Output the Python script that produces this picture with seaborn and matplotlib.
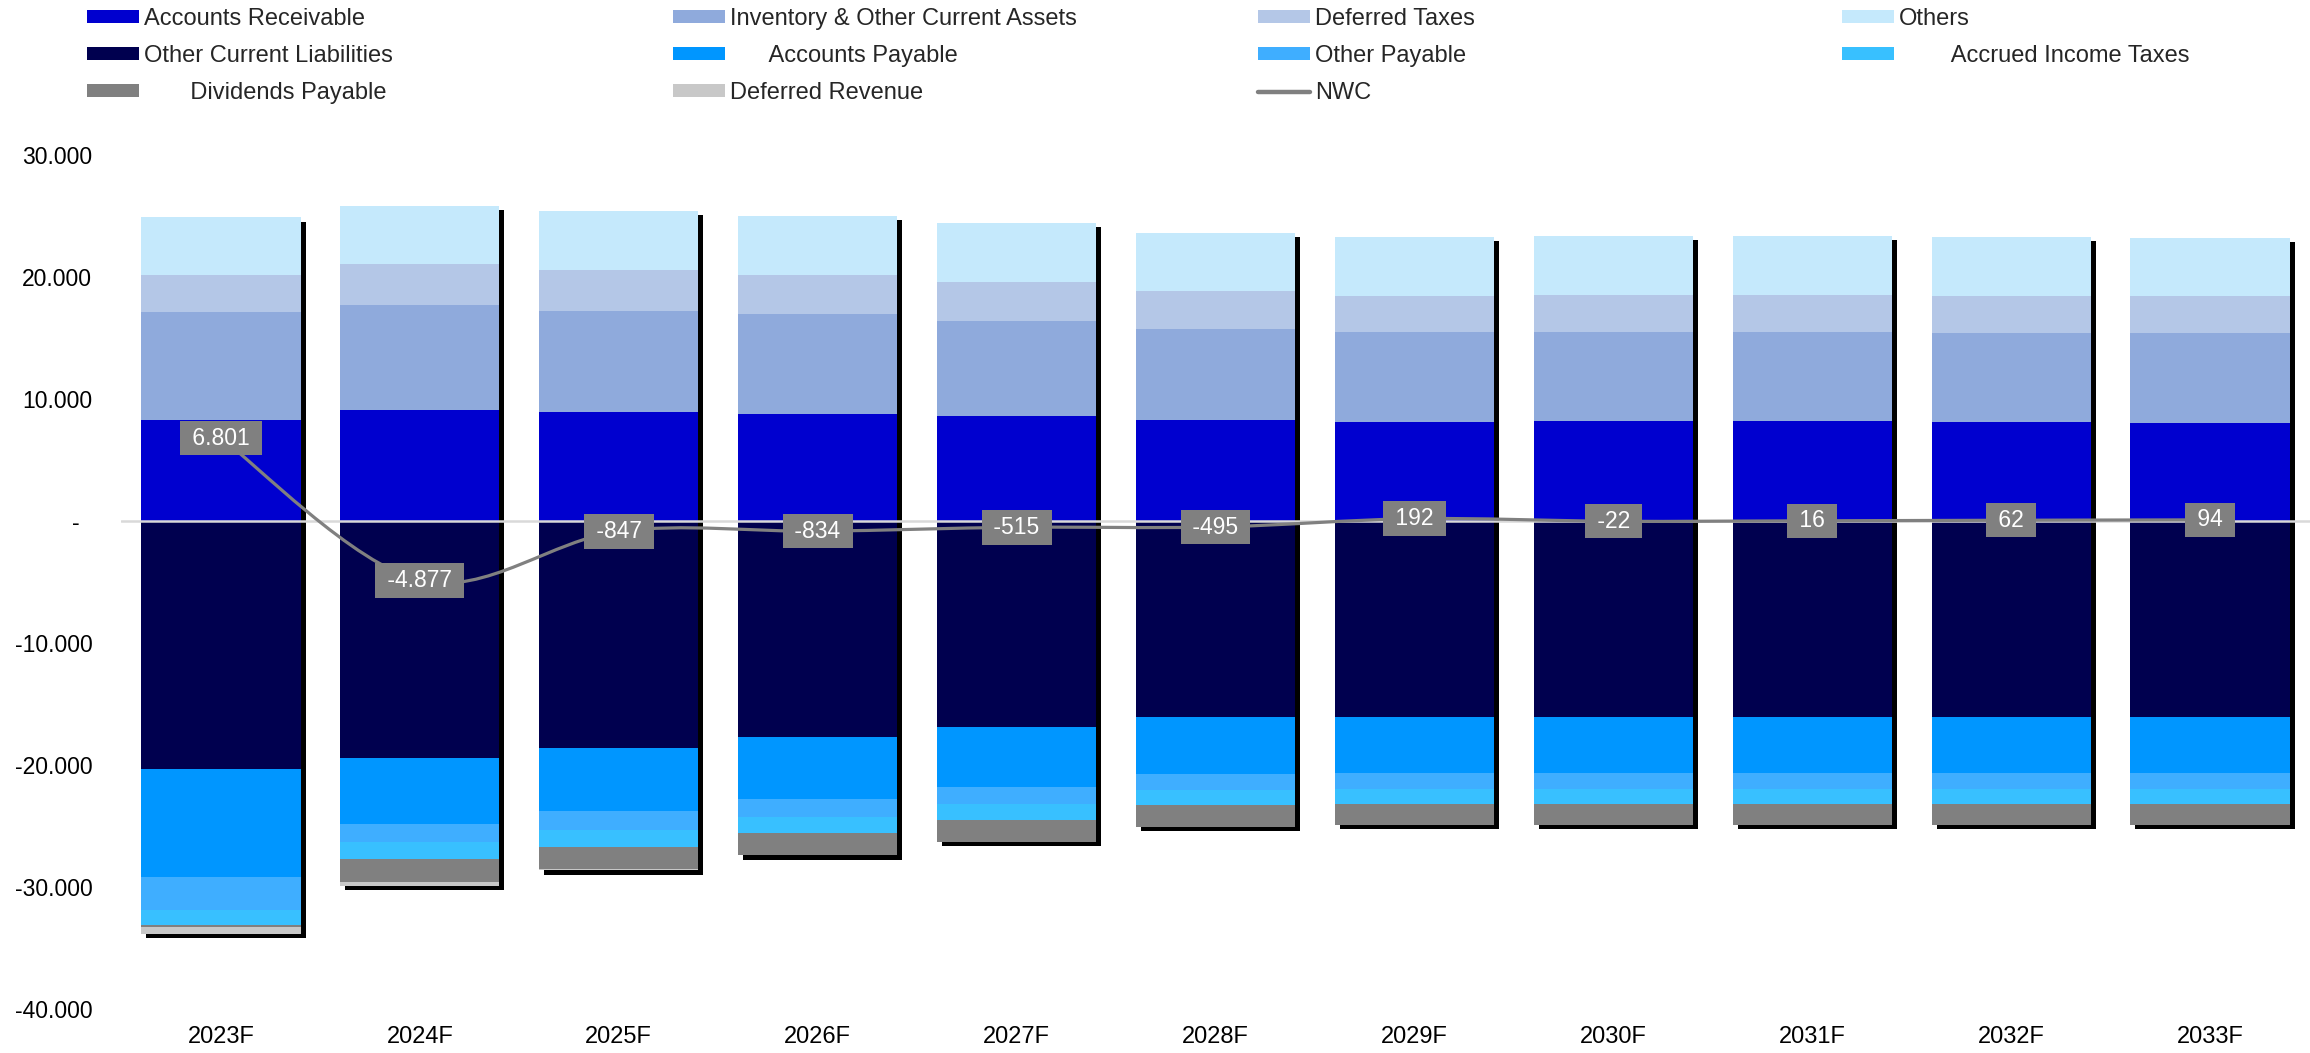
import numpy as np
import matplotlib
matplotlib.use("Agg")
import matplotlib.pyplot as plt
import matplotlib.patheffects as pe
from matplotlib.path import Path
from matplotlib.patches import PathPatch, Patch
from matplotlib.lines import Line2D
from matplotlib.ticker import FuncFormatter
import seaborn as sns

# ---- data -------------------------------------------------------------
years = ["2023F", "2024F", "2025F", "2026F", "2027F", "2028F",
         "2029F", "2030F", "2031F", "2032F", "2033F"]

accounts_receivable = [8260, 9070, 8920, 8800, 8570, 8310, 8120, 8160, 8160, 8090, 8050]
inventory_other = [8850, 8620, 8310, 8130, 7800, 7450, 7350, 7340, 7340, 7340, 7340]
deferred_taxes = [3040, 3340, 3320, 3270, 3200, 3090, 3010, 3050, 3050, 3010, 3020]
others = [4740, 4780, 4850, 4780, 4850, 4740, 4820, 4820, 4820, 4860, 4810]

other_current_liabilities = [-20290, -19430, -18600, -17730, -16900, -16070,
                             -16070, -16070, -16070, -16070, -16070]
accounts_payable = [-8900, -5370, -5200, -5080, -4900, -4670, -4590, -4590, -4590, -4590, -4590]
other_payable = [-2680, -1510, -1510, -1470, -1390, -1320, -1320, -1320, -1320, -1320, -1320]
accrued_income_taxes = [-1260, -1390, -1380, -1280, -1310, -1240, -1210, -1210, -1210, -1210, -1210]
dividends_payable = [-140, -1880, -1800, -1800, -1810, -1750, -1730, -1730, -1730, -1730, -1730]
deferred_revenue = [-560, -310, -150, -50, 0, 0, 0, 0, 0, 0, 0]

nwc = [6801, -4877, -847, -834, -515, -495, 192, -22, 16, 62, 94]

# ---- styling ----------------------------------------------------------
C_AR = "#0000CF"
C_INV = "#8FAADC"
C_DT = "#B4C7E7"
C_OTH = "#C5E9FC"
C_OCL = "#00004F"
C_AP = "#0096FF"
C_OP = "#3FAEFF"
C_AIT = "#38C0FF"
C_DIV = "#808080"
C_DR = "#C8C8C8"
C_NWC = "#808080"

sns.set_theme(style="white")
plt.rcParams["font.family"] = ["Liberation Sans", "DejaVu Sans"]

W, H = 2310, 1053
fig = plt.figure(figsize=(W / 100, H / 100), dpi=100)
ax = fig.add_axes([121.5 / W, 44 / H, 2188 / W, 854 / H])

shadow = [pe.SimplePatchShadow(offset=(3.6, -3.0), shadow_rgbFace="black", alpha=1.0),
          pe.Normal()]


def bases_for(series):
    base = np.zeros(len(years))
    out = []
    for vals in series:
        out.append(base.copy())
        base = base + np.asarray(vals, dtype=float)
    return out


def draw_stack(series, colors, order):
    bases = bases_for(series)
    for i in order:
        n0 = len(ax.patches)
        sns.barplot(x=years, y=series[i], bottom=bases[i], color=colors[i],
                    width=0.8, saturation=1, linewidth=0, ax=ax, errorbar=None)
        for p in ax.patches[n0:]:
            p.set_path_effects(shadow)
            p.set_zorder(2)


pos_series = [accounts_receivable, inventory_other, deferred_taxes, others]
pos_colors = [C_AR, C_INV, C_DT, C_OTH]
neg_series = [other_current_liabilities, accounts_payable, other_payable,
              accrued_income_taxes, dividends_payable, deferred_revenue]
neg_colors = [C_OCL, C_AP, C_OP, C_AIT, C_DIV, C_DR]

# upper segments first so each lower one covers the shadow above it
draw_stack(pos_series, pos_colors, order=[3, 2, 1, 0])
draw_stack(neg_series, neg_colors, order=[0, 1, 2, 3, 4, 5])

ax.axhline(0, color="#D9D9D9", lw=1.8, zorder=4)

# smoothed NWC line (cubic Bezier through every yearly value)
xs = np.arange(len(years), dtype=float)
ys = np.asarray(nwc, dtype=float)
verts = [(xs[0], ys[0])]
codes = [Path.MOVETO]
n = len(xs)
for i in range(n - 1):
    p0 = np.array([xs[max(i - 1, 0)], ys[max(i - 1, 0)]])
    p1 = np.array([xs[i], ys[i]])
    p2 = np.array([xs[i + 1], ys[i + 1]])
    p3 = np.array([xs[min(i + 2, n - 1)], ys[min(i + 2, n - 1)]])
    c1 = p1 + (p2 - p0) / 6.0
    c2 = p2 - (p3 - p1) / 6.0
    verts += [tuple(c1), tuple(c2), tuple(p2)]
    codes += [Path.CURVE4] * 3
ax.add_patch(PathPatch(Path(verts, codes), facecolor="none", edgecolor=C_NWC,
                       lw=2.3, zorder=6, capstyle="round", joinstyle="round"))


def fmt(v):
    return f"{v:,.0f}".replace(",", ".")


for i, v in enumerate(nwc):
    ax.text(i, v, f" {fmt(v)} ", ha="center", va="center", color="white",
            fontsize=16.5, zorder=8,
            bbox=dict(boxstyle="square,pad=0.25", fc="#808080", ec="none"))

ax.set_xlim(-0.5, len(years) - 0.5)
ax.set_ylim(-40000, 30000)
ax.set_yticks(np.arange(-40000, 30001, 10000))
ax.yaxis.set_major_formatter(FuncFormatter(lambda v, _: "-  " if v == 0 else fmt(v)))
ax.tick_params(axis="y", length=0, pad=21, labelsize=16.5, labelcolor="black")
ax.tick_params(axis="x", length=0, pad=12, labelsize=17, labelcolor="black")
ax.set_xlabel("")
ax.set_ylabel("")
ax.grid(False)
for s in ax.spines.values():
    s.set_visible(False)

# ---- legend: four columns -------------------------------------------------
def box(c):
    return Patch(facecolor=c, edgecolor="none")


columns = [
    ([box(C_AR), box(C_OCL), box(C_DIV)],
     ["Accounts Receivable", "Other Current Liabilities", "       Dividends Payable"]),
    ([box(C_INV), box(C_AP), box(C_DR)],
     ["Inventory & Other Current Assets", "      Accounts Payable", "Deferred Revenue"]),
    ([box(C_DT), box(C_OP), Line2D([], [], color=C_NWC, lw=3.2, solid_capstyle="round")],
     ["Deferred Taxes", "Other Payable", "NWC"]),
    ([box(C_OTH), box(C_AIT)],
     ["Others", "        Accrued Income Taxes"]),
]
col_x = [87, 673, 1258, 1842]
for x0, (handles, labels) in zip(col_x, columns):
    fig.legend(handles, labels, loc="upper left",
               bbox_to_anchor=(x0 / W, 1 - 8 / H), frameon=False, fontsize=17,
               handlelength=2.2, handleheight=0.47, handletextpad=0.22,
               labelspacing=0.64, borderpad=0, borderaxespad=0)

fig.savefig("out.png", dpi=100)
